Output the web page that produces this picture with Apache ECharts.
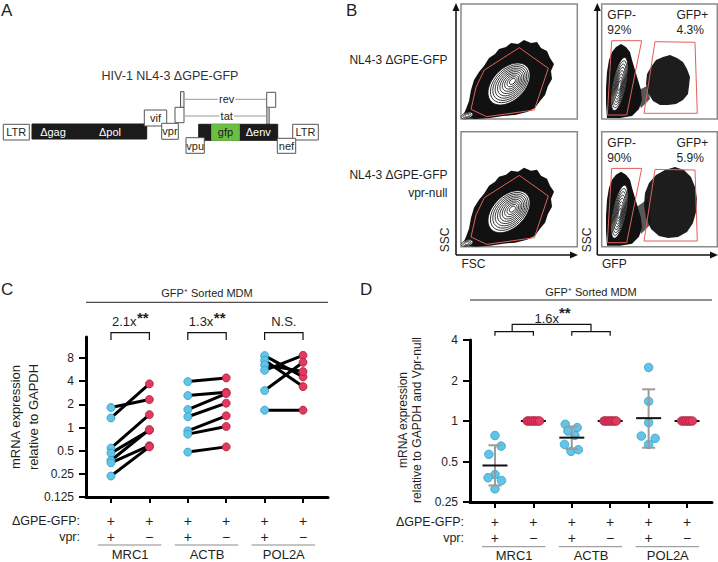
<!DOCTYPE html>
<html><head><meta charset="utf-8">
<script src="https://cdn.jsdelivr.net/npm/echarts@6/dist/echarts.min.js"></script>
<style>html,body{margin:0;padding:0;background:#fff}#c{width:718px;height:562px}</style>
</head><body><div id="c"></div>
<script>
// ---------------- DATA ----------------
const genes = ['MRC1', 'ACTB', 'POL2A'];
const gpeRow = ['+', '+', '+', '+', '+', '+'];
const vprRow = ['+', '−', '+', '−', '+', '−'];
const yTicksC = [0.125, 0.25, 0.5, 1, 2, 4, 8];
const yTicksD = [0.25, 0.5, 1, 2, 4];
// Panel C: paired expression (vpr+ -> vpr-null), relative to GAPDH
const mrc1Vpr  = [1.82, 1.33, 0.54, 0.465, 0.373, 0.348, 0.234];
const mrc1Null = [2.31, 3.69, 1.47, 0.92, 0.94, 0.58, 0.56];
const actbVpr  = [3.95, 2.60, 1.71, 1.38, 0.905, 0.82, 0.479];
const actbNull = [4.41, 2.87, 2.76, 2.07, 1.42, 1.03, 0.56];
const pol2aVpr  = [8.59, 7.47, 6.51, 5.54, 3.02, 1.68];
const pol2aNull = [4.55, 3.40, 5.33, 8.67, 7.03, 1.68];
// Panel D: relative to GAPDH and Vpr-null (jitter = horizontal spread in category units)
const dMrc1     = [0.78, 0.651, 0.565, 0.40, 0.379, 0.361, 0.313];
const dMrc1Jit  = [0, 0.16, -0.16, 0, -0.18, 0.17, 0];
const dActb     = [0.945, 0.893, 0.842, 0.783, 0.67, 0.595, 0.612];
const dActbJit  = [-0.17, 0.14, -0.10, 0.08, -0.19, -0.02, 0.17];
const dPol2a    = [2.50, 1.40, 0.973, 0.773, 0.743, 0.67];
const dPol2aJit = [0, 0, 0, -0.19, 0.17, 0];
const dNull7    = [1, 1, 1, 1, 1, 1, 1];
const dNull7Jit = [-0.16, -0.11, -0.05, 0, 0.05, 0.11, 0.16];
const dNull6    = [1, 1, 1, 1, 1, 1];
const dNull6Jit = [-0.14, -0.08, -0.03, 0.03, 0.08, 0.14];
const dMean = [0.467, 1, 0.752, 1, 1.05, 1];
const dLo   = [0.332, 1, 0.62, 1, 0.633, 1];
const dHi   = [0.66, 1, 0.91, 1, 1.72, 1];
const cFold = ['2.1x', '1.3x', 'N.S.'];
const cSig  = ['**', '**', ''];
const dFold = '1.6x';
const flowPct = [['92%', '4.3%'], ['90%', '5.9%']];

// ---------------- STYLE ----------------
const FONT = '"Liberation Sans", Arial, Helvetica, sans-serif';
const TXT = '#231f20';
const BLUE = '#62c4e6', BLUE_B = '#2f9dc6';
const RED = '#e2395f', RED_B = '#b01e40';

const chart = echarts.init(document.getElementById('c'), null, {renderer: 'svg', width: 718, height: 562});

const pairs = [];
const cBlue = [], cRed = [];
[[mrc1Vpr, mrc1Null, 1], [actbVpr, actbNull, 3], [pol2aVpr, pol2aNull, 5]].forEach(([a, b, x]) => {
  a.forEach((v, i) => pairs.push([x, v, x + 1, b[i]]));
  a.forEach(v => cBlue.push([x, v]));
  b.forEach(v => cRed.push([x + 1, v]));
});
const dBlue = [], dRed = [];
[[dMrc1, dMrc1Jit, 1], [dActb, dActbJit, 3], [dPol2a, dPol2aJit, 5]].forEach(([v, j, x]) => v.forEach((y, i) => dBlue.push([x + j[i], y])));
[[dNull7, dNull7Jit, 2], [dNull7, dNull7Jit, 4], [dNull6, dNull6Jit, 6]].forEach(([v, j, x]) => v.forEach((y, i) => dRed.push([x + j[i], y])));
const statsBlue = [0, 2, 4].map(i => [i + 1, dMean[i], dLo[i], dHi[i]]);
const statsRed = [1, 3, 5].map(i => [i + 1, dMean[i], dLo[i], dHi[i]]);

function statRender(p, api) {
  const x = api.value(0), m = api.value(1), lo = api.value(2), hi = api.value(3);
  const c = api.coord([x, m]);
  const ch = [];
  if (hi > lo) {
    const a = api.coord([x, hi]), b = api.coord([x, lo]);
    const gs = {stroke: '#9b9b9b', lineWidth: 2};
    ch.push({type: 'line', shape: {x1: a[0], y1: a[1], x2: b[0], y2: b[1]}, style: gs});
    ch.push({type: 'line', shape: {x1: a[0] - 6.5, y1: a[1], x2: a[0] + 6.5, y2: a[1]}, style: gs});
    ch.push({type: 'line', shape: {x1: b[0] - 6.5, y1: b[1], x2: b[0] + 6.5, y2: b[1]}, style: gs});
  }
  ch.push({type: 'line', shape: {x1: c[0] - 12.5, y1: c[1], x2: c[0] + 12.5, y2: c[1]}, style: {stroke: '#111', lineWidth: 2}});
  return {type: 'group', children: ch};
}

const axisCommonX = (gi) => ({
  gridIndex: gi, type: 'value', min: 0.35, max: 6.65,
  axisLine: {onZero: false, lineStyle: {color: '#000', width: 3}},
  axisTick: {show: true, customValues: [1, 2, 3, 4, 5, 6], length: 6, lineStyle: {color: '#000', width: 2}},
  axisLabel: {show: false}, splitLine: {show: false}
});
const axisCommonY = (gi, min, max, ticks) => ({
  gridIndex: gi, type: 'log', logBase: 2, min: min, max: max,
  axisLine: {show: true, onZero: false, lineStyle: {color: '#000', width: 3}},
  axisTick: {show: true, customValues: ticks, length: 7, lineStyle: {color: '#000', width: 2}},
  axisLabel: {customValues: ticks, color: TXT, fontSize: 12, fontFamily: FONT, margin: 12,
    formatter: v => String(+(+v).toPrecision(4))},
  splitLine: {show: false}
});

chart.setOption({
  animation: false,
  backgroundColor: '#fff',
  textStyle: {fontFamily: FONT},
  grid: [
    {left: 86, right: 390, top: 337, bottom: 65},
    {left: 470, right: 6, top: 340, bottom: 60}
  ],
  xAxis: [axisCommonX(0), axisCommonX(1)],
  yAxis: [axisCommonY(0, 0.125, 15, yTicksC), axisCommonY(1, 0.25, 4, yTicksD)],
  series: [
    {type: 'custom', xAxisIndex: 0, yAxisIndex: 0, data: pairs, encode: {x: [0, 2], y: [1, 3]}, z: 2,
      renderItem: (p, api) => {
        const s = api.coord([api.value(0), api.value(1)]), e = api.coord([api.value(2), api.value(3)]);
        return {type: 'line', shape: {x1: s[0], y1: s[1], x2: e[0], y2: e[1]}, style: {stroke: '#000', lineWidth: 3}};
      }},
    {type: 'scatter', xAxisIndex: 0, yAxisIndex: 0, data: cBlue, symbolSize: 8, z: 3,
      itemStyle: {color: BLUE, borderColor: BLUE_B, borderWidth: 0.8, opacity: 1}},
    {type: 'scatter', xAxisIndex: 0, yAxisIndex: 0, data: cRed, symbolSize: 8, z: 3,
      itemStyle: {color: RED, borderColor: RED_B, borderWidth: 0.8, opacity: 1}},
    {type: 'custom', xAxisIndex: 1, yAxisIndex: 1, data: statsRed, encode: {x: 0, y: [1, 2, 3]}, z: 2, renderItem: statRender},
    {type: 'scatter', xAxisIndex: 1, yAxisIndex: 1, data: dBlue, symbolSize: 8.5, z: 3,
      itemStyle: {color: BLUE, borderColor: BLUE_B, borderWidth: 0.8, opacity: 1}},
    {type: 'scatter', xAxisIndex: 1, yAxisIndex: 1, data: dRed, symbolSize: 8.5, z: 3,
      itemStyle: {color: RED, borderColor: RED_B, borderWidth: 0.8, opacity: 1}},
    {type: 'custom', xAxisIndex: 1, yAxisIndex: 1, data: statsBlue, encode: {x: 0, y: [1, 2, 3]}, z: 4, renderItem: statRender}
  ]
});

// ---------------- GRAPHIC HELPERS ----------------
function T(text, x, y, o) {
  o = o || {};
  return {type: 'text', x: x, y: y, rotation: o.rot || 0, z: o.z || 20, silent: true,
    style: {text: text, fill: o.fill || TXT, fontSize: o.size || 12, fontFamily: FONT, fontWeight: o.weight || 'normal',
      align: o.align || 'center', verticalAlign: o.va || 'middle', lineHeight: o.lh,
      backgroundColor: o.bg, padding: o.pad}};
}
function R(x, y, w, h, fill, stroke, lw, z) { return {type: 'rect', z: z || 10, silent: true, shape: {x: x, y: y, width: w, height: h}, style: {fill: fill, stroke: stroke, lineWidth: lw || 1}}; }
function L(x1, y1, x2, y2, stroke, lw, z) { return {type: 'line', z: z || 10, silent: true, shape: {x1: x1, y1: y1, x2: x2, y2: y2}, style: {stroke: stroke, lineWidth: lw || 1}}; }
function PL(pts, stroke, lw, z) { return {type: 'polyline', z: z || 10, silent: true, shape: {points: pts}, style: {stroke: stroke, lineWidth: lw || 1, fill: null}}; }
function PG(pts, fill, stroke, lw, z, op) { return {type: 'polygon', z: z || 10, silent: true, shape: {points: pts}, style: {fill: fill, stroke: stroke || null, lineWidth: lw || 0, opacity: op == null ? 1 : op}}; }
function E(cx, cy, rx, ry, rot, fill, stroke, lw, z) { return {type: 'ellipse', z: z || 12, silent: true, x: cx, y: cy, rotation: rot, shape: {cx: 0, cy: 0, rx: rx, ry: ry}, style: {fill: fill, stroke: stroke, lineWidth: lw || 0.8}}; }
const sh = (pts, dy) => pts.map(p => [p[0], p[1] + dy]);

const G = [];
// Panel letters
G.push(T('A', 1, 10, {size: 17, align: 'left'}));
G.push(T('B', 346, 10, {size: 17, align: 'left'}));
G.push(T('C', 1, 289, {size: 17, align: 'left'}));
G.push(T('D', 360, 289, {size: 17, align: 'left'}));

// ---------------- PANEL A (genome map) ----------------
const BOXS = '#555';
G.push(T('HIV-1 NL4-3 ΔGPE-GFP', 170, 76, {size: 12.5, fill: '#333'}));
G.push(L(185, 99.3, 266.7, 99.3, '#9a9a9a', 1));
G.push(L(185, 116, 266.7, 116, '#9a9a9a', 1));
G.push(T('rev', 226.7, 99.3, {size: 11, bg: '#fff', pad: [0, 1]}));
G.push(T('tat', 226.7, 116, {size: 11, bg: '#fff', pad: [0, 1]}));
G.push(R(3.3, 124.3, 26, 15.7, '#fff', BOXS));
G.push(T('LTR', 16.3, 132.3, {size: 11}));
G.push(R(32, 124, 114.7, 15, '#1b1b1b', '#1b1b1b'));
G.push(T('Δgag', 53, 131.7, {size: 11, fill: '#fff'}));
G.push(T('Δpol', 110, 131.7, {size: 11, fill: '#fff'}));
G.push(R(144.3, 110, 22.4, 16, '#fff', BOXS));
G.push(T('vif', 155.5, 118, {size: 11}));
G.push(R(161.7, 123.3, 16.6, 16, '#fff', BOXS, 1, 11));
G.push(T('vpr', 170, 131.3, {size: 11}));
G.push(R(175, 107.3, 9, 15.4, '#fff', BOXS));
G.push(R(180.5, 91.7, 3.5, 15.6, '#eee', BOXS));
G.push(R(266.7, 92.3, 9, 15, '#fff', BOXS));
G.push(R(266.7, 107.3, 2.6, 16.7, '#bbb', '#777'));
G.push(R(198.7, 124.3, 79, 16, '#1b1b1b', '#1b1b1b'));
G.push(R(211.7, 124.3, 27.6, 16, '#6cbf45', '#6cbf45', 1, 11));
G.push(T('gfp', 225.5, 132.3, {size: 11, fill: '#1b1b1b'}));
G.push(T('Δenv', 258.3, 132.3, {size: 11, fill: '#fff'}));
G.push(R(186, 137.7, 18.3, 15.6, '#fff', BOXS, 1, 11));
G.push(T('vpu', 195.2, 145.5, {size: 11}));
G.push(R(277.3, 138.3, 18.4, 15, '#fff', BOXS, 1, 11));
G.push(T('nef', 286.5, 145.8, {size: 11}));
G.push(R(292.7, 124.3, 25.6, 15.7, '#fff', BOXS));
G.push(T('LTR', 305.5, 132.3, {size: 11}));

// ---------------- PANEL B (flow plots) ----------------
G.push(T('NL4-3 ΔGPE-GFP', 447.5, 60, {size: 12, align: 'right'}));
G.push(T('NL4-3 ΔGPE-GFP', 447.5, 175, {size: 12, align: 'right'}));
G.push(T('vpr-null', 447.5, 192.7, {size: 12, align: 'right'}));
G.push(L(456, 255, 456, 9, '#111', 1.5));
G.push(PG([[456, 3], [452.5, 11], [459.5, 11]], '#111'));
G.push(L(456, 255, 571, 255, '#111', 1.5));
G.push(PG([[578, 255], [570, 251.5], [570, 258.5]], '#111'));
G.push(L(597.3, 255, 597.3, 9, '#111', 1.5));
G.push(PG([[597.3, 3], [593.8, 11], [600.8, 11]], '#111'));
G.push(L(597.3, 255, 711, 255, '#111', 1.5));
G.push(PG([[718, 255], [710, 251.5], [710, 258.5]], '#111'));
G.push(T('SSC', 445, 240, {size: 12, rot: Math.PI / 2}));
G.push(T('SSC', 586.5, 240, {size: 12, rot: Math.PI / 2}));
G.push(T('FSC', 461.5, 263.5, {size: 12, align: 'left'}));
G.push(T('GFP', 602, 263.5, {size: 12, align: 'left'}));

const fscBlob = [[462, 118], [466, 109], [469, 101], [471, 90], [474, 80], [479, 72], [484, 66], [489, 58], [495, 54], [499, 49], [506, 47], [511, 43], [518, 44], [524, 40], [531, 43], [537, 42], [541, 48], [547, 51], [550, 58], [554, 64], [551, 71], [552, 79], [548, 86], [545, 95], [540, 101], [535, 108], [527, 112], [515, 115], [503, 116], [490, 118], [476, 119]];
const fscGate = [[519.3, 47.7], [548.3, 68.3], [534.3, 110], [486.7, 116.7], [471, 109.3], [476, 87.3], [484.3, 70]];
function fscPlot(dy) {
  G.push(R(461, 4 + dy, 116.3, 115, '#fff', '#8a8a8a', 1.5, 9));
  G.push(PG(sh(fscBlob, dy), '#111', null, 0, 10));
  for (let k = 0; k < 10; k++) {
    const s = 1 - k * 0.095;
    G.push(E(509 + (1 - s) * 4, 84 + dy - (1 - s) * 3, 25 * s, 16 * s, Math.PI / 4, k === 0 ? '#fff' : null, '#111', 0.8, 12 + k));
  }
  for (let k = 0; k < 3; k++) {
    const s = 1 - k * 0.3;
    G.push(E(467, 115.5 + dy, 6 * s, 3 * s, 0.3, k === 0 ? '#fff' : null, '#111', 0.7, 12 + k));
  }
  G.push(PG(sh(fscGate, dy), null, '#e0605a', 1, 30));
}
fscPlot(0);
fscPlot(127.7);

const negBlob = [[607, 118], [606, 104], [606, 88], [607, 72], [609, 60], [612, 52], [616, 47], [621, 44], [626, 47], [630, 52], [632, 60], [635, 70], [638, 80], [641, 90], [642, 100], [639, 109], [632, 116], [620, 118]];
const gateL = [[611.7, 40.7], [641.7, 40.7], [626.7, 115], [607.3, 115]];
const gateR = [[655, 41.7], [695, 42.3], [697.3, 113.3], [644, 113.3]];
const posOuter = [
  [[646, 84], [647, 74], [651, 67], [656, 60], [663, 57], [670, 55], [677, 58], [683, 62], [687, 69], [690, 77], [689, 86], [688, 94], [683, 100], [676, 104], [668, 105], [660, 105], [653, 101], [648, 93]],
  [[644, 205], [645, 193], [649, 183], [656, 175], [665, 170], [675, 167], [684, 170], [691, 177], [695, 187], [697, 199], [696, 212], [693, 223], [687, 232], [678, 237], [668, 238], [659, 236], [651, 229], [646, 218]]
];
const bridge = [
  [[635, 92], [647, 86], [650, 99], [641, 108]],
  [[635, 208], [648, 199], [651, 224], [641, 234]]
];
function gfpPlot(idx, dy) {
  G.push(R(601.7, 4 + dy, 115.6, 115, '#fff', '#8a8a8a', 1.5, 9));
  G.push(PG(sh(negBlob, dy), '#111', null, 0, 10));
  G.push(PG(bridge[idx], '#111', null, 0, 10, 0.7));
  G.push(PG(posOuter[idx], '#111', null, 0, 10, 0.95));
  for (let k = 0; k < 8; k++) {
    const s = 1 - k * 0.115;
    G.push(E(619.5, 84 + dy + (1 - s) * 2, 6.5 * s, 27 * s, -0.2, k === 0 ? '#fff' : null, '#111', 0.8, 12 + k));
  }
  G.push(PG(sh(gateL, dy), null, '#e0605a', 1, 30));
  G.push(PG(sh(gateR, dy), null, '#e0605a', 1, 30));
  G.push(T('GFP-', 607.3, 15 + dy, {size: 12, align: 'left'}));
  G.push(T(flowPct[idx][0], 607.3, 30 + dy, {size: 12, align: 'left'}));
  G.push(T('GFP+', 676.5, 15 + dy, {size: 12, align: 'left'}));
  G.push(T(flowPct[idx][1], 676.5, 30 + dy, {size: 12, align: 'left'}));
}
gfpPlot(0, 0);
gfpPlot(1, 127.7);

// ---------------- PANELS C & D annotations ----------------
function px(gi, x) { return chart.convertToPixel({gridIndex: gi}, [x, 1])[0]; }
function panelLabels(gi, axisLeft, axisRight, rowY1, rowY2, lineY, geneY, headY, headLineY) {
  G.push(T('GFP⁺ Sorted MDM', (axisLeft + axisRight) / 2, headY, {size: 11}));
  G.push(L(axisLeft, headLineY, axisRight, headLineY, '#222', 1));
  G.push(T('ΔGPE-GFP:', axisLeft - 6, rowY1, {size: 12.5, align: 'right'}));
  G.push(T('vpr:', axisLeft - 6, rowY2, {size: 12.5, align: 'right'}));
  for (let i = 0; i < 6; i++) {
    const x = px(gi, i + 1);
    G.push(T(gpeRow[i], x, rowY1, {size: 14}));
    G.push(T(vprRow[i], x, rowY2, {size: 14}));
  }
  for (let g = 0; g < 3; g++) {
    const a = px(gi, 2 * g + 1), b = px(gi, 2 * g + 2);
    G.push(L(a - 13, lineY, b + 12, lineY, '#8a8a8a', 1));
    G.push(T(genes[g], (a + b) / 2, geneY, {size: 13}));
  }
}
panelLabels(0, 86, 328, 520.7, 536.7, 545, 554.5, 293.3, 302.3);
panelLabels(1, 470, 712, 522.3, 537.7, 546.7, 555, 291.7, 300);

// y-axis names
G.push(T('mRNA expression\nrelative to GAPDH', 24, 417, {size: 13, rot: Math.PI / 2, lh: 18}));
G.push(T('mRNA expression\nrelative to GAPDH and Vpr-null', 410, 420, {size: 12, rot: Math.PI / 2, lh: 14}));

// Panel C brackets
for (let g = 0; g < 3; g++) {
  const a = px(0, 2 * g + 1), b = px(0, 2 * g + 2);
  G.push(PL([[a, 340], [a, 332.7], [b, 332.7], [b, 340]], '#111', 1.2));
  if (cSig[g]) {
    G.push(T(cFold[g], a + 1, 321.5, {size: 13, align: 'left'}));
    G.push(T(cSig[g], a + 26, 317, {size: 15, align: 'left', weight: 'bold'}));
  } else {
    G.push(T(cFold[g], (a + b) / 2, 321.5, {size: 13}));
  }
}
// Panel D bracket
{
  const a = px(1, 1), b = px(1, 2), c = px(1, 3), d = px(1, 4);
  const m1 = (a + b) / 2 - 2, m2 = (c + d) / 2;
  G.push(PL([[a, 335.7], [a, 331.7], [b, 331.7], [b, 335.7]], '#111', 1.2));
  G.push(PL([[c, 335.7], [c, 331.7], [d, 331.7], [d, 335.7]], '#111', 1.2));
  G.push(PL([[m1, 331.7], [m1, 324.3], [m2, 324.3], [m2, 331.7]], '#111', 1.2));
  G.push(T(dFold, 546.7, 318, {size: 13}));
  G.push(T('**', 559, 312, {size: 15, align: 'left', weight: 'bold'}));
}

chart.setOption({graphic: {elements: G}});
</script>
</body></html>
